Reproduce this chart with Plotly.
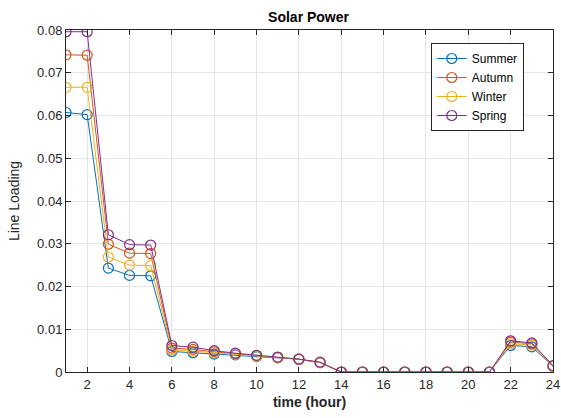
import plotly.graph_objects as go

hours = list(range(1, 25))

summer = [0.0607, 0.0602, 0.0243, 0.0226, 0.0225, 0.0048, 0.0045, 0.0042, 0.0040, 0.0036,
          0.0033, 0.0030, 0.0022, 0, 0, 0, 0, 0, 0, 0, 0, 0.0062, 0.0059, 0.0013]
autumn = [0.0742, 0.0741, 0.0299, 0.0278, 0.0277, 0.0056, 0.0053, 0.0047, 0.0043, 0.0038,
          0.0034, 0.0030, 0.0022, 0, 0, 0, 0, 0, 0, 0, 0, 0.0070, 0.0066, 0.0014]
winter = [0.0666, 0.0666, 0.0269, 0.0250, 0.0249, 0.0052, 0.0049, 0.0045, 0.0042, 0.0037,
          0.0033, 0.0030, 0.0022, 0, 0, 0, 0, 0, 0, 0, 0, 0.0066, 0.0063, 0.0013]
spring = [0.0796, 0.0796, 0.0321, 0.0298, 0.0297, 0.0062, 0.0058, 0.0050, 0.0044, 0.0039,
          0.0035, 0.0030, 0.0023, 0, 0, 0, 0, 0, 0, 0, 0, 0.0073, 0.0068, 0.0015]

series = [("Summer", summer, "#0072BD"),
          ("Autumn", autumn, "#D95319"),
          ("Winter", winter, "#EDB120"),
          ("Spring", spring, "#7E2F8E")]

xticks = list(range(2, 25, 2))
yticks = [0, 0.01, 0.02, 0.03, 0.04, 0.05, 0.06, 0.07, 0.08]
ytext = ["0", "0.01", "0.02", "0.03", "0.04", "0.05", "0.06", "0.07", "0.08"]

fig = go.Figure()
for name, vals, color in series:
    fig.add_trace(go.Scatter(
        x=hours, y=vals, name=name, mode="lines+markers",
        line=dict(color=color, width=1),
        marker=dict(symbol="circle-open", size=10, color=color, line=dict(width=1.2)),
    ))

font = "Liberation Sans, Arial, sans-serif"
axis_common = dict(
    showline=True, linecolor="#262626", linewidth=1, mirror="ticks",
    ticks="inside", ticklen=5, tickcolor="#262626",
    showgrid=True, gridcolor="#e5e5e5", gridwidth=1,
    zeroline=False, automargin=False,
    tickfont=dict(family=font, size=13, color="#262626"),
)

fig.update_layout(
    width=561, height=418,
    margin=dict(l=66, r=8, t=30, b=46, autoexpand=False),
    paper_bgcolor="white", plot_bgcolor="white",
    title=dict(text="<b>Solar Power</b>", x=0.55, xanchor="center", y=0.96, yanchor="middle",
               font=dict(family=font, size=14, color="black")),
    xaxis=dict(range=[1, 24], tickvals=xticks,
               title=dict(text="<b>time (hour)</b>", standoff=6,
                          font=dict(family=font, size=14, color="#262626")),
               **axis_common),
    yaxis=dict(range=[0, 0.08], tickvals=yticks, ticktext=ytext,
               title=dict(text="Line Loading", standoff=14,
                          font=dict(family=font, size=14, color="#262626")),
               **axis_common),
    legend=dict(x=0.749, y=0.962, xanchor="left", yanchor="top",
                bgcolor="white", bordercolor="#262626", borderwidth=1,
                font=dict(family=font, size=12, color="black"),
                tracegroupgap=0, itemwidth=30),
    showlegend=True,
)

fig.write_html("out.html")
